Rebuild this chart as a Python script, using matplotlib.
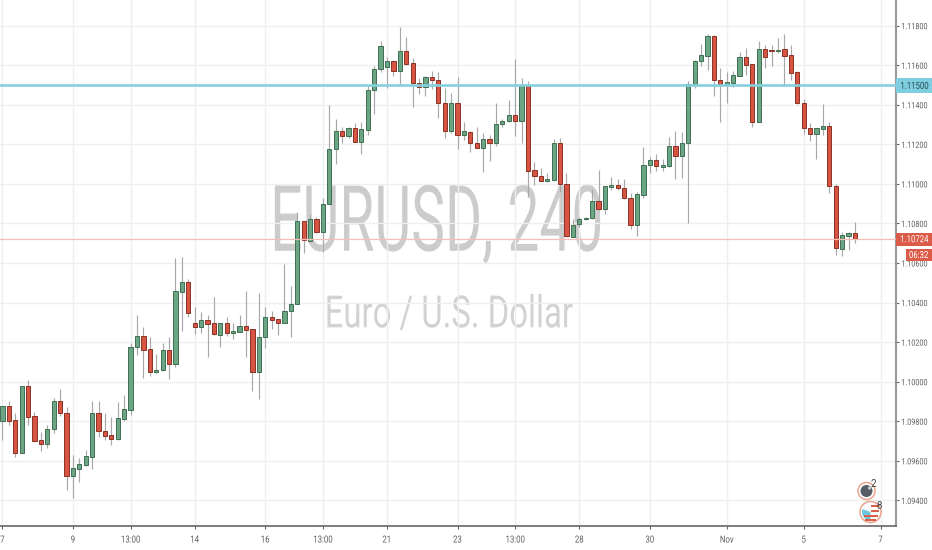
import matplotlib
matplotlib.use("Agg")
import matplotlib.pyplot as plt
from matplotlib.patches import Rectangle, Circle, Wedge
from matplotlib.patheffects import AbstractPathEffect
from matplotlib.transforms import Affine2D

# Prices in units of 0.00001
opens = [109802,109878,109804,109639,109979,109826,109703,109686,109759,109905,
 109844,109523,109560,109579,109621,109841,109752,109730,109712,109814,
 109859,110175,110232,110164,110049,110059,110159,110090,110456,110505,
 110296,110276,110311,110296,110237,110296,110248,110253,110283,110264,
 110049,110224,110325,110315,110298,110358,110392,110811,110712,110825,
 110757,110897,111174,111265,111243,111281,111214,111275,111473,111580,
 111593,111620,111571,111671,111610,111512,111492,111541,111527,111411,
 111265,111408,111248,111263,111209,111184,111226,111206,111303,111317,
 111347,111320,111495,111071,111042,111015,111020,111209,110999,110734,
 110799,110821,110826,110916,110874,110985,110995,110981,110931,110794,
 110946,111094,111120,111088,111091,111194,111142,111206,111502,111622,
 111649,111750,111527,111502,111511,111548,111642,111605,111312,111684,
 111677,111674,111681,111652,111564,111411,111281,111251,111280,111291,
 110990,110673,110737,110751]
highs = [109878,109900,109841,109980,110009,109849,109745,109782,109920,109962,
 109870,109628,109614,109656,109900,109905,109841,109821,109896,109933,
 110197,110338,110278,110224,110140,110197,110227,110626,110631,110518,
 110380,110352,110335,110426,110296,110325,110295,110335,110459,110266,
 110446,110380,110357,110315,110597,110486,110857,110811,110848,110835,
 110931,111399,111327,111286,111286,111310,111315,111500,111596,111723,
 111640,111627,111795,111741,111635,111534,111546,111571,111568,111484,
 111462,111541,111315,111270,111286,111256,111248,111408,111330,111423,
 111630,111537,111519,111111,111079,111057,111229,111234,111054,110825,
 110835,110835,110973,111071,110987,111034,111024,111024,110953,110961,
 111189,111135,111150,111125,111239,111270,111261,111519,111627,111708,
 111758,111755,111588,111568,111571,111666,111689,111605,111723,111701,
 111701,111740,111758,111703,111573,111430,111310,111281,111403,111315,
 111000,110757,110759,110805]
lows = [109707,109782,109619,109639,109781,109697,109648,109665,109740,109828,
 109455,109413,109492,109576,109560,109720,109703,109678,109703,109799,
 109833,110135,110021,110031,110046,110056,110012,110076,110256,110328,
 110241,110248,110127,110236,110177,110231,110214,110251,110127,109952,
 109915,110169,110266,110236,110295,110224,110392,110649,110708,110751,
 110655,110897,111101,111206,111231,111214,111150,111248,111352,111568,
 111487,111546,111497,111602,111391,111455,111445,111480,111335,111231,
 111256,111177,111222,111163,111180,111062,111116,111192,111286,111315,
 111243,111206,110933,110997,111013,111012,111017,110958,110734,110730,
 110784,110818,110823,110869,110848,110970,110970,110924,110772,110737,
 110928,111054,111066,111066,111084,111025,111032,110804,111484,111596,
 111576,111445,111315,111408,111492,111546,111551,111286,111312,111588,
 111596,111661,111495,111526,111404,111251,111219,111126,111248,110956,
 110641,110636,110666,110700]
closes = [109878,109801,109639,109980,109824,109700,109686,109762,109905,109843,
 109525,109564,109584,109623,109841,109750,109727,109712,109817,109863,
 110177,110232,110160,110049,110061,110159,110090,110458,110505,110348,
 110276,110311,110293,110239,110296,110248,110256,110283,110261,110049,
 110227,110325,110311,110298,110360,110394,110813,110714,110825,110757,
 110899,111175,111265,111243,111283,111214,111278,111477,111583,111699,
 111620,111571,111671,111607,111512,111492,111541,111526,111411,111266,
 111408,111248,111265,111206,111184,111226,111206,111305,111318,111347,
 111320,111495,111067,111040,111015,111024,111209,110998,110735,110791,
 110823,110830,110916,110874,110987,110997,110980,110929,110794,110949,
 111098,111120,111091,111094,111194,111142,111207,111504,111623,111652,
 111750,111526,111502,111514,111549,111642,111603,111313,111684,111644,
 111672,111679,111649,111563,111409,111281,111253,111281,111291,110990,
 110676,110741,110751,110722]

price_ticks = [1.094, 1.096, 1.098, 1.100, 1.102, 1.104, 1.106, 1.108, 1.110,
               1.112, 1.114, 1.116, 1.118]
time_tick_bars = [0, 11, 20, 30, 41, 50, 60, 71, 80, 90, 101, 113, 125, 137]
time_tick_labels = ["7", "9", "13:00", "14", "16", "13:00", "21", "23", "13:00",
                    "28", "30", "Nov", "5", "7"]
resistance = 1.115
last_price = 1.10724

FONT = "Roboto"
UP, DOWN, UP_EDGE, DOWN_EDGE = "#6ba583", "#d75442", "#3f6f52", "#8a3226"
WICK, GRID = "#a8a8a8", "#efefef"
CYAN, PINK = "#84d0de", "#f5bdb3"
LABEL = "#5f5f5f"


class Condense(AbstractPathEffect):
    """Squeezes a real text object horizontally (the reference uses a condensed face)."""
    def __init__(self, k, anchor="center"):
        super().__init__()
        self.k, self.anchor = k, anchor

    def draw_path(self, renderer, gc, tpath, affine, rgbFace=None):
        ext = affine.transform_path(tpath).get_extents()
        cx = ext.x0 if self.anchor == "left" else 0.5 * (ext.x0 + ext.x1)
        squeeze = Affine2D().translate(-cx, 0).scale(self.k, 1).translate(cx, 0)
        renderer.draw_path(gc, tpath, affine + squeeze, rgbFace)


W, H = 932, 550
fig = plt.figure(figsize=(W/100, H/100), dpi=100, facecolor="white")
ax = fig.add_axes([0, (H-525.5)/H, 896/W, 525.5/H])
ax.set_xlim(-2.4/6.41, (896-2.4)/6.41)
ax.set_ylim(1.118-(525.5-25.67)/19780, 1.118+25.67/19780)

ax.set_yticks(price_ticks)
ax.set_yticklabels([f"{p:.5f}" for p in price_ticks], fontfamily=FONT, fontsize=6.2, color=LABEL)
ax.yaxis.tick_right()
ax.set_xticks(time_tick_bars)
ax.set_xticklabels(time_tick_labels, fontfamily=FONT, fontsize=7, color=LABEL)
ax.tick_params(axis="y", length=2.5, width=0.8, color="#666666", pad=1.2)
ax.tick_params(axis="x", length=2.5, width=0.8, color="#666666", pad=4)
for t in ax.get_yticklabels():
    t.set_path_effects([Condense(0.84, "left")])
for t in ax.get_xticklabels():
    t.set_path_effects([Condense(0.8)])
ax.grid(True, color=GRID, lw=1.0)
ax.set_axisbelow(True)
for s in ("top", "left"):
    ax.spines[s].set_visible(False)
ax.spines["right"].set_color("#999999")
ax.spines["right"].set_linewidth(1.5)
ax.spines["bottom"].set_color("#666666")
ax.spines["bottom"].set_linewidth(1.2)

wm = ax.text(436/896, 0.5714, "EURUSD, 240", transform=ax.transAxes, ha="center", va="center",
             fontsize=66, color="#cccccc", fontfamily=FONT, zorder=0.5)
wm.set_path_effects([Condense(0.62)])
sub = ax.text(448.5/896, 0.4, "Euro / U.S. Dollar", transform=ax.transAxes, ha="center", va="center",
              fontsize=32, color="#d2d2d2", fontfamily=FONT, zorder=0.5)
sub.set_path_effects([Condense(0.74)])

ax.axhline(resistance, color=CYAN, lw=1.9, zorder=4)
ax.axhline(last_price, color=PINK, lw=0.9, zorder=4)

for i, (o, h, l, c) in enumerate(zip(opens, highs, lows, closes)):
    o, h, l, c = o/1e5, h/1e5, l/1e5, c/1e5
    up = c >= o
    ax.vlines(i, l, h, color=WICK, lw=0.85, zorder=2)
    ax.bar(i, abs(c-o), bottom=min(o, c), width=0.66,
           color=UP if up else DOWN, edgecolor=UP_EDGE if up else DOWN_EDGE,
           linewidth=0.7, zorder=3)

# Overlay in pixel space: price-axis flags and event badges
ov = fig.add_axes([0, 0, 1, 1], facecolor="none")
ov.set_xlim(0, W); ov.set_ylim(H, 0); ov.axis("off")
ov.add_patch(Rectangle((896, 78), 36, 15, fc="#7fcfe0", ec="none"))
ov.add_patch(Rectangle((896, 232.5), 36, 13, fc="#dc5a48", ec="none"))
ov.add_patch(Rectangle((905.5, 249), 27, 12, fc="#dc5a48", ec="none"))
flags = [(914.5, 85.8, "1.11500", "#244a50"),
         (914.5, 239.2, "1.10724", "white"),
         (918.7, 255, "06:32", "white")]
for x, y, s, col in flags:
    t = ov.text(x, y, s, ha="center", va="center", fontsize=7, color=col, fontfamily=FONT)
    t.set_path_effects([Condense(0.8)])

ov.add_patch(Circle((866.5, 491), 8.5, fc="white", ec="#eba58f", lw=1.1))
ov.add_patch(Circle((866.5, 491), 6, fc="#565d66", ec="none"))
ov.add_patch(Circle((869.5, 488), 1.6, fc="#c9cdd2", ec="none"))
ov.text(873, 484, "2", ha="center", va="center", fontsize=7, color="#444444", fontfamily=FONT)
ov.add_patch(Circle((870.5, 512), 10.5, fc="white", ec="#eba58f", lw=1.1))
ov.add_patch(Wedge((870.5, 512), 8.5, 90, 200, fc="#6ec6dc", ec="none"))
for y0, hh, x0, ww in ((505, 2, 871, 8), (510, 2, 871, 8), (515, 2.2, 863.5, 14.5), (519, 1.8, 865, 11)):
    ov.add_patch(Rectangle((x0, y0), ww, hh, fc="#d8604c", ec="none"))
ov.text(879.5, 506, "8", ha="center", va="center", fontsize=7, color="#444444", fontfamily=FONT)

fig.savefig("out.png", dpi=100, facecolor="white")
